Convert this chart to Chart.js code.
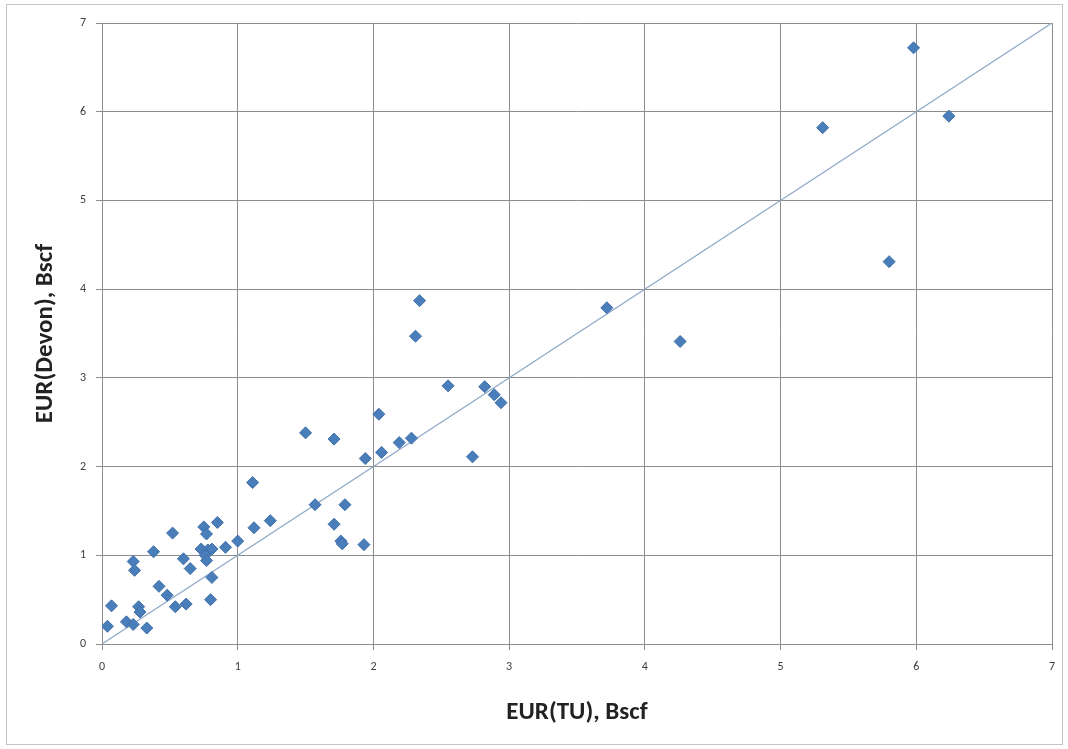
<!DOCTYPE html>
<html lang="en">
<head>
    <meta charset="utf-8" />
    <title>EUR Devon vs TU</title>
    <script src="https://cdn.jsdelivr.net/npm/chart.js"></script>
    <style>
        body { margin: 0; background: #fff; }
        .chart-box { width: 1068px; height: 749px; position: relative; }
    </style>
</head>
<body>
<div class="chart-box">
    <canvas id="eurChart"></canvas>
</div>

<script>
    // EUR values (Bscf)
    var tuEur = [5.98, 6.24, 5.31, 5.80, 3.72, 4.26, 2.34, 2.31, 2.55, 2.82,
                 2.89, 2.94, 2.73, 2.28, 2.19, 2.06, 2.04, 1.94, 1.71, 1.50,
                 1.11, 1.57, 1.79, 1.71, 1.76, 1.77, 1.93, 1.24, 1.12, 0.85,
                 0.75, 0.77, 0.52, 1.00, 0.91, 0.73, 0.78, 0.81, 0.76, 0.77,
                 0.38, 0.60, 0.65, 0.23, 0.24, 0.81, 0.42, 0.48, 0.80, 0.62,
                 0.54, 0.27, 0.28, 0.07, 0.18, 0.23, 0.33, 0.04];
    var devonEur = [6.72, 5.95, 5.82, 4.31, 3.79, 3.41, 3.87, 3.47, 2.91, 2.90,
                    2.81, 2.72, 2.11, 2.32, 2.27, 2.16, 2.59, 2.09, 2.31, 2.38,
                    1.82, 1.57, 1.57, 1.35, 1.16, 1.13, 1.12, 1.39, 1.31, 1.37,
                    1.32, 1.24, 1.25, 1.16, 1.09, 1.07, 1.06, 1.07, 1.00, 0.94,
                    1.04, 0.96, 0.85, 0.93, 0.83, 0.75, 0.65, 0.55, 0.50, 0.45,
                    0.42, 0.42, 0.36, 0.43, 0.25, 0.22, 0.18, 0.20];
    // 1:1 reference line
    var refLine = [0, 7];

    var points = tuEur.map(function (x, i) { return { x: x, y: devonEur[i] }; });
    var linePts = refLine.map(function (v) { return { x: v, y: v }; });

    var gridColor = '#8c8c8c';
    var titleFont = { family: 'Carlito, "Liberation Sans Narrow", Lato, sans-serif', size: 25, weight: 'bold' };
    var tickFont = { family: 'Carlito, "Liberation Sans Narrow", Lato, sans-serif', size: 12 };

    // light frame round the whole chart, like the Excel chart area
    var frame = {
        id: 'frame',
        beforeDraw: function (chart) {
            var ctx = chart.ctx;
            ctx.save();
            ctx.fillStyle = '#fff';
            ctx.fillRect(0, 0, chart.width, chart.height);
            ctx.strokeStyle = '#c4c4c4';
            ctx.lineWidth = 1;
            ctx.strokeRect(6.5, 4.5, 1056, 740);
            ctx.restore();
        }
    };

    var ctx = document.getElementById('eurChart').getContext('2d');
    var eurChart = new Chart(ctx, {
        type: 'scatter',
        data: {
            datasets: [{
                label: 'EUR',
                data: points,
                pointStyle: 'rectRot',
                pointRadius: 6,
                pointBackgroundColor: '#4a7ebb',
                pointBorderColor: '#3f6fa8',
                pointBorderWidth: 1,
                order: 1
            }, {
                label: '1:1',
                type: 'line',
                data: linePts,
                borderColor: '#8fa8c8',
                borderWidth: 1.2,
                pointRadius: 0,
                fill: false,
                order: 2
            }]
        },
        options: {
            responsive: true,
            maintainAspectRatio: false,
            animation: false,
            layout: { padding: { left: 6, right: 16, top: 23, bottom: 10 } },
            plugins: {
                legend: { display: false },
                tooltip: { enabled: false }
            },
            scales: {
                x: {
                    type: 'linear',
                    min: 0,
                    max: 7,
                    ticks: { stepSize: 1, font: tickFont, color: '#404040', padding: 10 },
                    grid: { color: gridColor, tickLength: 6, tickColor: gridColor },
                    border: { color: gridColor },
                    title: { display: true, text: 'EUR(TU), Bscf', font: titleFont, color: '#222', padding: { top: 0, bottom: 11 } },
                    afterFit: function (scale) { scale.height = 95; }
                },
                y: {
                    type: 'linear',
                    min: 0,
                    max: 7,
                    ticks: { stepSize: 1, font: tickFont, color: '#404040', padding: 10 },
                    grid: { color: gridColor, tickLength: 6, tickColor: gridColor },
                    border: { color: gridColor },
                    title: { display: true, text: 'EUR(Devon), Bscf', font: titleFont, color: '#222', padding: { top: 25, bottom: 0 } },
                    afterFit: function (scale) { scale.width = 96; }
                }
            }
        },
        plugins: [frame]
    });
</script>
</body>
</html>
